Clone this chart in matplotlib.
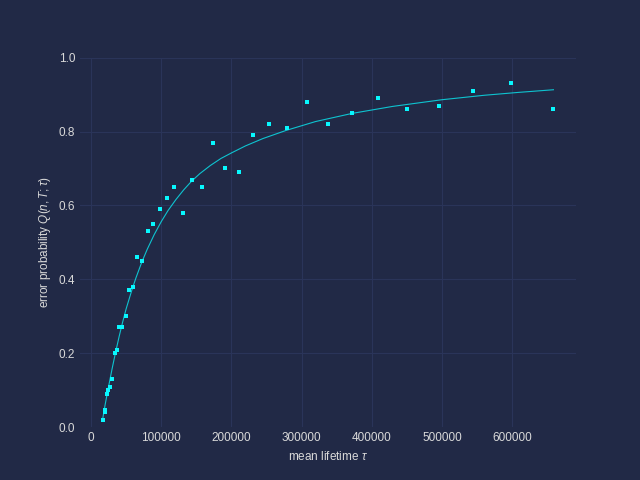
import matplotlib
matplotlib.use('Agg')
import matplotlib.pyplot as plt

# measured points (mean lifetime tau, error probability)
tau = [16400, 17400, 19500, 20400, 23300, 24800, 27600, 30500, 33800, 37600,
       40500, 44800, 50500, 54800, 60500, 66200, 73300, 80500, 89000, 97600,
       107600, 117600, 130500, 143300, 157600, 173300, 190400, 210400, 230400,
       253300, 279000, 307600, 337600, 371900, 409000, 450400, 496100, 544700,
       599000, 659000]
q = [0.019, 0.019, 0.04, 0.047, 0.089, 0.10, 0.108, 0.13, 0.20, 0.208,
     0.27, 0.27, 0.30, 0.37, 0.378, 0.46, 0.449, 0.53, 0.549, 0.59,
     0.619, 0.649, 0.579, 0.668, 0.649, 0.768, 0.70, 0.69, 0.79,
     0.82, 0.809, 0.879, 0.82, 0.849, 0.89, 0.86, 0.868, 0.909,
     0.93, 0.86]

# fitted curve
fit_tau = [16400, 20000, 25000, 30000, 35000, 40000, 45000, 50000, 58000, 64000,
           72000, 80000, 90000, 100000, 110000, 121000, 132000, 143000, 155000,
           170000, 185000, 200000, 220000, 245000, 278000, 320000, 372000,
           430000, 500000, 560000, 610000, 659000]
fit_q = [0.02, 0.06, 0.11, 0.158, 0.203, 0.245, 0.284, 0.32, 0.37, 0.404,
         0.445, 0.481, 0.521, 0.556, 0.587, 0.616, 0.642, 0.665, 0.686,
         0.708, 0.727, 0.742, 0.761, 0.781, 0.803, 0.827, 0.849,
         0.868, 0.886, 0.898, 0.906, 0.913]

bg = '#212946'
plt.rcParams.update({
    'font.family': ['Liberation Sans', 'DejaVu Sans'],
    'mathtext.fontset': 'custom',
    'mathtext.rm': 'Liberation Sans',
    'mathtext.it': 'Liberation Sans:italic',
    'figure.facecolor': bg,
    'axes.facecolor': bg,
    'axes.edgecolor': bg,
    'axes.labelcolor': '0.85',
    'xtick.color': '0.85',
    'ytick.color': '0.85',
    'text.color': '0.85',
    'grid.color': '#2A3459',
})

fig, ax = plt.subplots(figsize=(6.4, 4.8), dpi=100)
ax.plot(fit_tau, fit_q, color='#08F7FE', lw=0.8, alpha=0.75)
ax.plot(tau, q, 's', color='#08F7FE', ms=2.6, mew=0)
ax.set_ylim(0, 1.0)
ax.grid(True)
ax.tick_params(axis='both', colors='0.85', length=0, labelsize=8.5)
for sp in ax.spines.values():
    sp.set_visible(False)
ax.set_xlabel(r'mean lifetime $\tau$', fontsize=8.5)
ax.set_ylabel(r'error probability $Q(n,T;\tau)$', fontsize=8.5)

fig.savefig('out.png', dpi=100, facecolor=bg)
